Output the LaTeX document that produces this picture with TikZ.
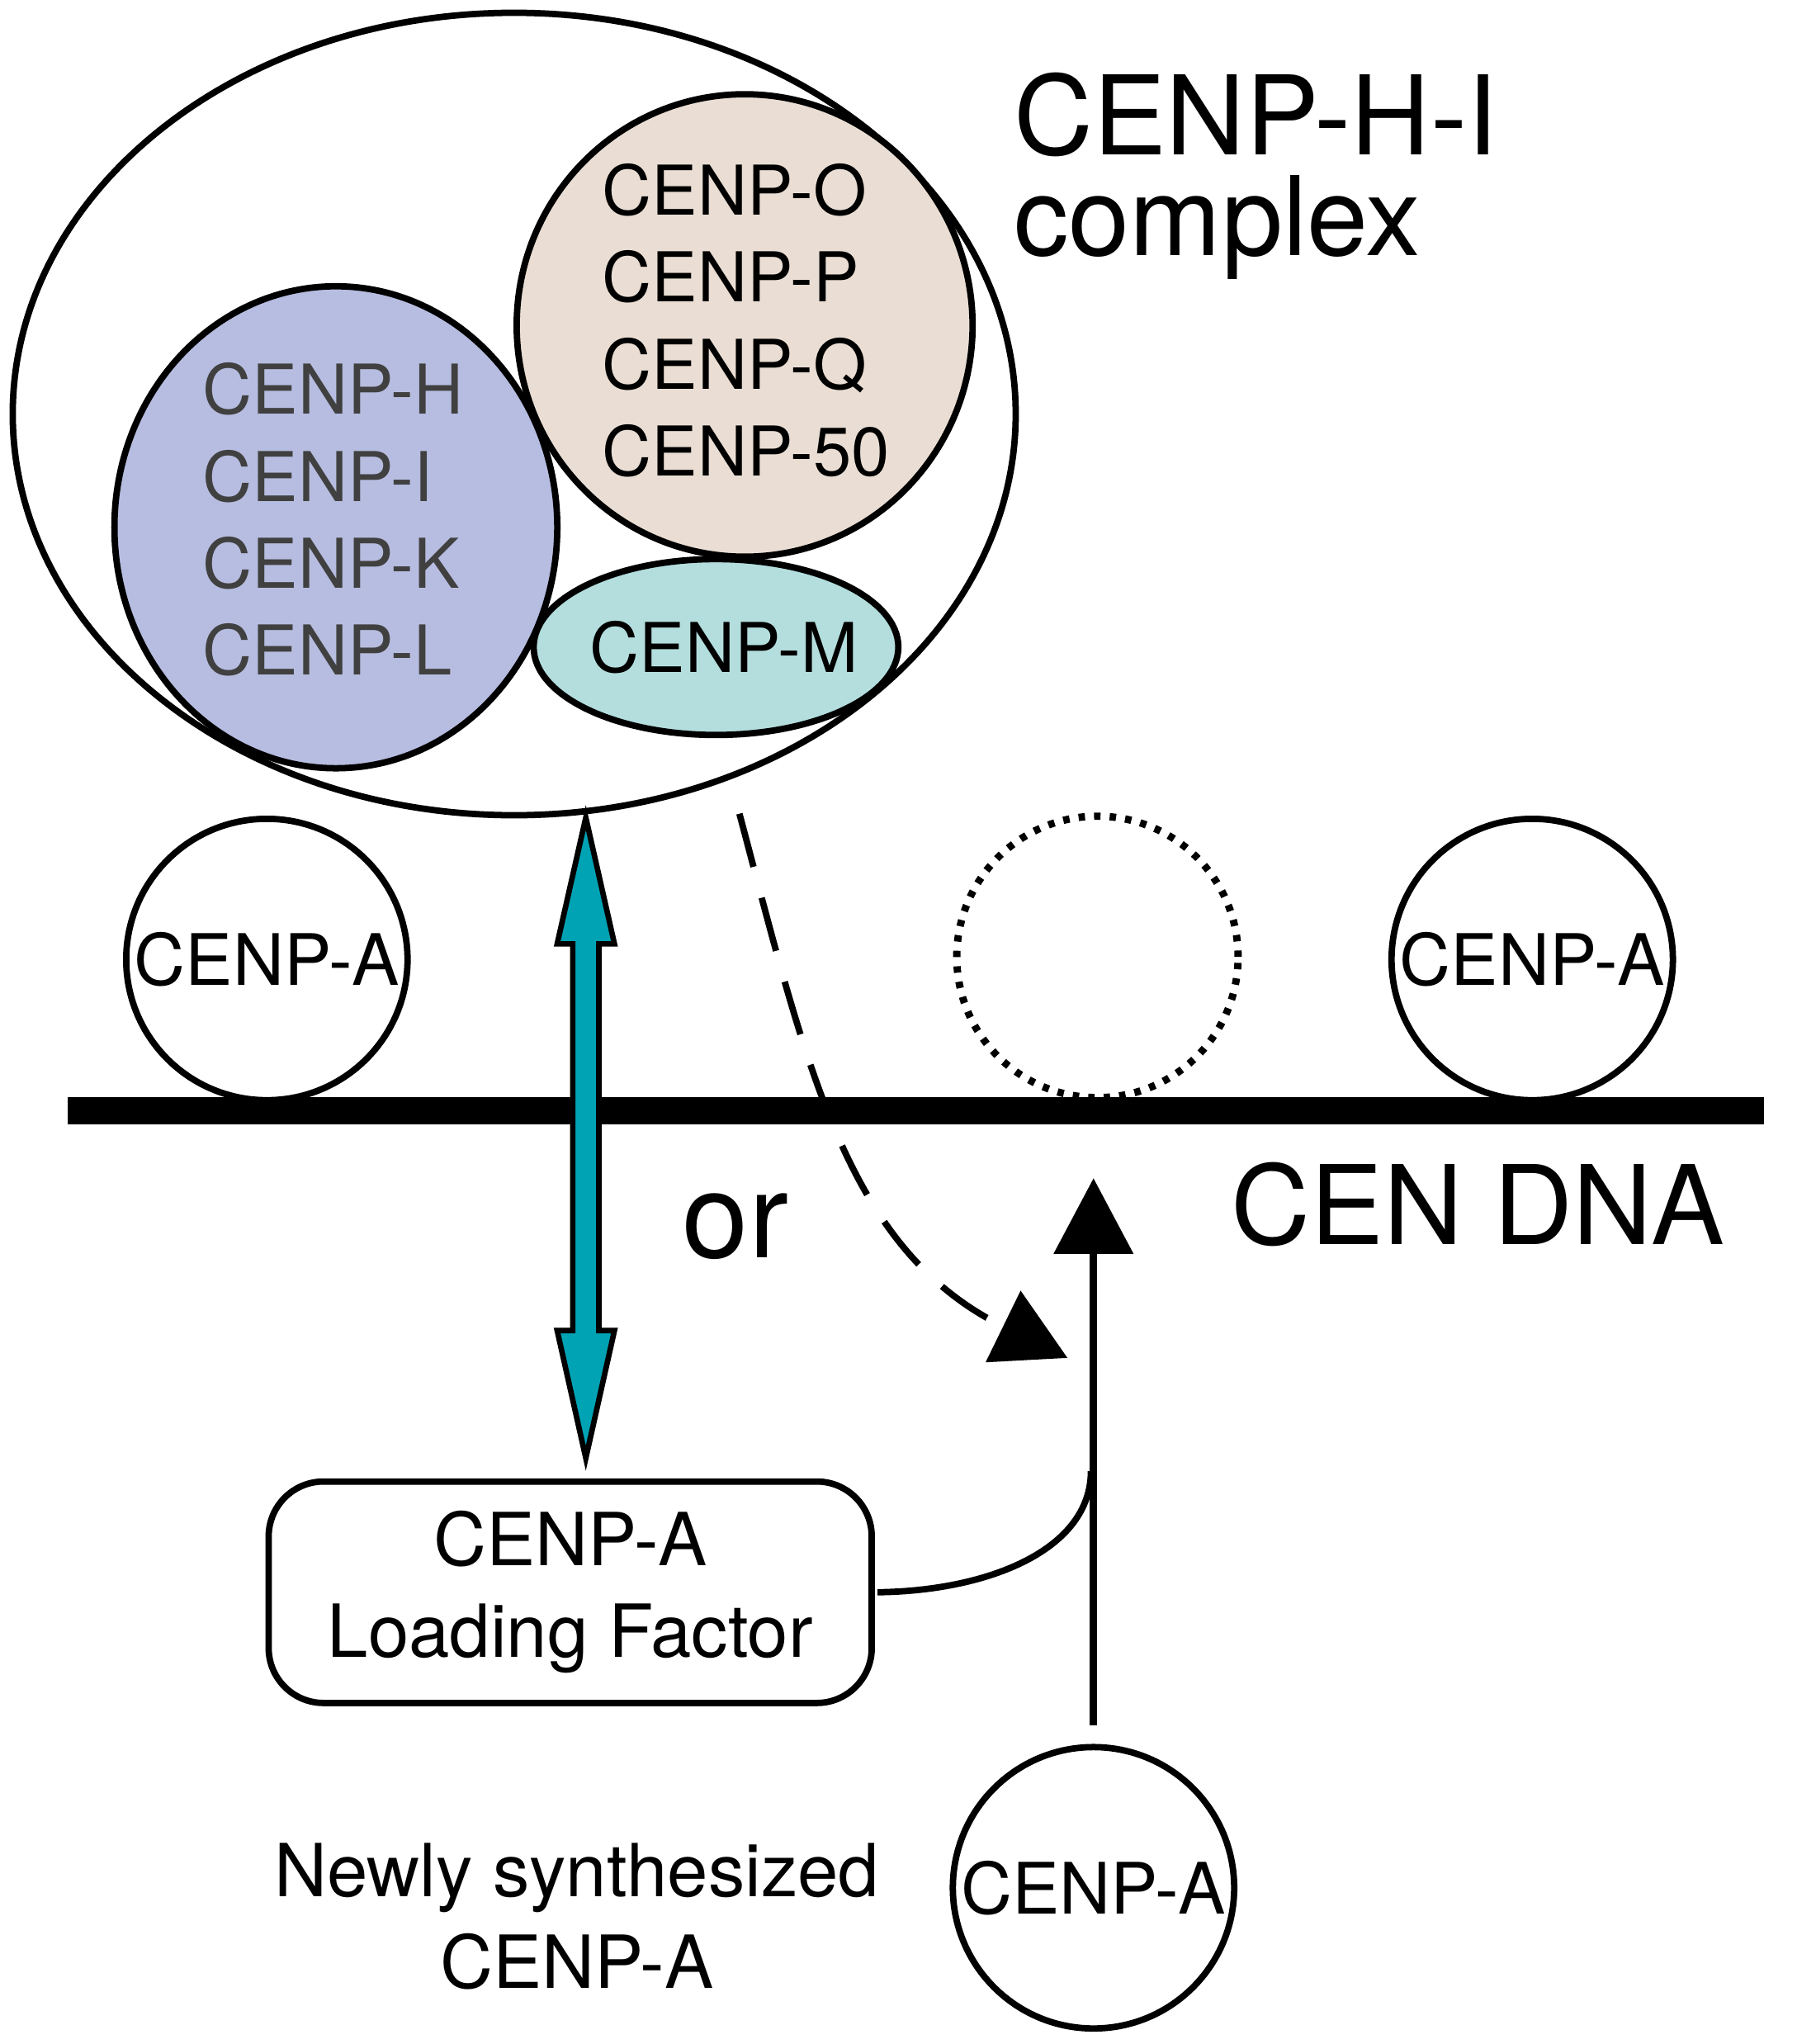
\documentclass[tikz,border=0pt]{standalone}
\usepackage{fontspec}
\setmainfont{TeX Gyre Heros}
\usetikzlibrary{shapes.geometric,positioning,arrows.meta,calc}
\definecolor{lavender}{RGB}{183,189,224}
\definecolor{tan}{RGB}{234,222,212}
\definecolor{mint}{RGB}{180,222,222}
\definecolor{arrteal}{RGB}{0,163,180}
\begin{document}
\begin{tikzpicture}[x=0.01cm,y=-0.01cm,
    blob/.style={ellipse, draw, line width=1.4pt, inner sep=0pt},
    nuc/.style={circle, draw, line width=1.4pt, minimum size=2.16cm, inner sep=0pt},
    nuctext/.style={font=\fontsize{15.5}{18}\selectfont, inner sep=0pt},
    lbl/.style={font=\fontsize{15}{19}\selectfont, align=left, inner sep=0pt}
]
\useasboundingbox (0,0) rectangle (1380,1570);

% complex
\node[blob, minimum width=7.7cm, minimum height=6.16cm] (cplx) at (395,318) {};
\node[blob, fill=lavender, minimum width=3.4cm, minimum height=3.7cm] (hik) at (258,405) {};
\node[blob, fill=tan, minimum width=3.5cm, minimum height=3.55cm] (opq) at (572,250) {};
\node[blob, fill=mint, minimum width=2.8cm, minimum height=1.35cm] (m) at (550,497) {};
\node[lbl] (mt) at (556,497) {CENP-M};
\node[lbl, text=black!75, anchor=north west] (hikt) at (155,278) {CENP-H\\CENP-I\\CENP-K\\CENP-L};
\node[lbl, anchor=north west] (opqt) at (462,125) {CENP-O\\CENP-P\\CENP-Q\\CENP-50};
\node[anchor=north west, align=left, inner sep=0pt, font=\fontsize{24}{22}\selectfont] (title) at (778,55) {CENP-H-I\\complex};

% DNA and nucleosomes
\coordinate (dnaL) at (52,853);
\coordinate (dnaR) at (1355,853);
\draw[line width=6pt] (dnaL) -- (dnaR);
\node[nuc] (a1) at (205,737) {};
\node[nuc] (a2) at (1177,737) {};
\node[nuc, dotted, line width=1.6pt] (gap) at (843,735) {};
\node[nuc] (a3) at (840,1450) {};
\node[nuctext] at (a1) {CENP-A};
\node[nuctext] at (a2) {CENP-A};
\node[nuctext] at (a3) {CENP-A};
\node[font=\fontsize{24}{30}\selectfont] (dna) at (1135,925) {CEN DNA};
\node[font=\fontsize{26}{30}\selectfont] (or) at (565,942) {or};

% loading factor
\node[draw, line width=1.4pt, rounded corners=12pt, minimum width=4.63cm, minimum height=1.7cm, align=center, font=\fontsize{16}{20}\selectfont] (lf) at (438,1223) {CENP-A\\Loading Factor};
\node[align=center, font=\fontsize{16}{20}\selectfont] (new) at (443,1472) {Newly synthesized\\CENP-A};

% teal double arrow
\coordinate (tt) at (450,628);
\coordinate (tb) at (450,1120);
\draw[line width=1.2pt, fill=arrteal, line join=miter]
  (tt) -- ++(22,97) -- ++(-12,0) -- ++(0,297) -- ++(12,0) -- (tb)
  -- ++(-22,-98) -- ++(12,0) -- ++(0,-297) -- ++(-12,0) -- cycle;

% dashed path
\coordinate (ds) at (568,625);
\coordinate (de) at (820,1043);
\draw[line width=1.4pt, dashed, dash pattern=on 12pt off 7pt, -{Triangle[length=0.55cm,width=0.6cm]}]
  (ds) .. controls (620,820) and (650,960) .. (de);

% arrow up
\coordinate (up) at (840,905);
\coordinate (upb) at (840,1325);
\draw[line width=1.6pt, -{Triangle[length=0.58cm,width=0.6cm]}] (upb) -- (up);
\draw[line width=1.4pt] (lf.east) ++(2,0) .. controls (760,1222) and (838,1190) .. (838,1130);
\end{tikzpicture}
\end{document}
